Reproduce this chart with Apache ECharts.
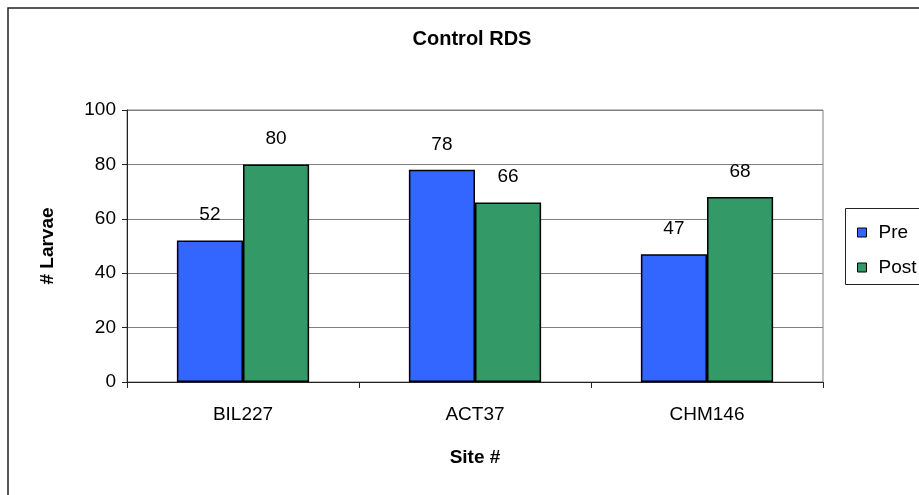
<!DOCTYPE html>
<html>
<head>
<meta charset="utf-8">
<script src="https://cdn.jsdelivr.net/npm/echarts@6/dist/echarts.min.js"></script>
<style>html,body{margin:0;padding:0;background:#fff}#c{width:919px;height:495px}</style>
</head>
<body>
<div id="c"></div>
<script>
var categories = ['BIL227', 'ACT37', 'CHM146'];
var preValues = [52, 78, 47];
var postValues = [80, 66, 68];
var seriesNames = ['Pre', 'Post'];

var FONT = '"Liberation Sans", Arial, sans-serif';
var chart = echarts.init(document.getElementById('c'));
var labelStyle = {show: true, position: 'top', distance: 16, fontFamily: FONT, fontSize: 19, color: '#000'};
chart.setOption({
  animation: false,
  backgroundColor: '#fff',
  title: {text: 'Control RDS', left: 467, textAlign: 'center', top: 24,
    textStyle: {fontFamily: FONT, fontSize: 20, fontWeight: 'bold', color: '#000'}},
  grid: {left: 127, top: 110, right: 96, bottom: 113, show: true, borderColor: '#808080', borderWidth: 1},
  legend: {orient: 'vertical', left: 852, top: 218, itemWidth: 9, itemHeight: 9, itemGap: 16, icon: 'rect',
    data: seriesNames,
    itemStyle: {borderColor: '#000', borderWidth: 1},
    textStyle: {fontFamily: FONT, fontSize: 19, color: '#000', padding: [0, 0, 0, 7]}},
  graphic: [
    {type: 'rect', shape: {x: 8, y: 8, width: 960, height: 540}, style: {fill: null, stroke: '#222', lineWidth: 1.5}, z: 100},
    {type: 'rect', shape: {x: 845.5, y: 208.5, width: 120, height: 76}, style: {fill: null, stroke: '#222', lineWidth: 1}, z: 100}
  ],
  xAxis: {type: 'category', data: categories,
    name: 'Site #', nameLocation: 'middle', nameGap: 66,
    nameTextStyle: {fontFamily: FONT, fontSize: 19, fontWeight: 'bold', color: '#000'},
    axisLine: {lineStyle: {color: '#222', width: 1}},
    axisTick: {show: true, length: 6, lineStyle: {color: '#222'}},
    axisLabel: {fontFamily: FONT, fontSize: 19, color: '#000', margin: 23}},
  yAxis: {type: 'value', min: 0, max: 100, interval: 20,
    name: '# Larvae', nameLocation: 'middle', nameGap: 70, nameRotate: 90,
    nameTextStyle: {fontFamily: FONT, fontSize: 19, fontWeight: 'bold', color: '#000'},
    axisLine: {show: true, lineStyle: {color: '#222', width: 1}},
    axisTick: {show: true, length: 5, lineStyle: {color: '#222'}},
    splitLine: {lineStyle: {color: '#808080', width: 1}},
    axisLabel: {fontFamily: FONT, fontSize: 19, color: '#000', margin: 11}},
  series: [
    {name: seriesNames[0], type: 'bar', data: preValues, barGap: '0%', barCategoryGap: '43%',
      itemStyle: {color: '#3366FF', borderColor: '#000', borderWidth: 1.5}, label: labelStyle},
    {name: seriesNames[1], type: 'bar', data: postValues,
      itemStyle: {color: '#339966', borderColor: '#000', borderWidth: 1.5}, label: labelStyle}
  ]
});
</script>
</body>
</html>
